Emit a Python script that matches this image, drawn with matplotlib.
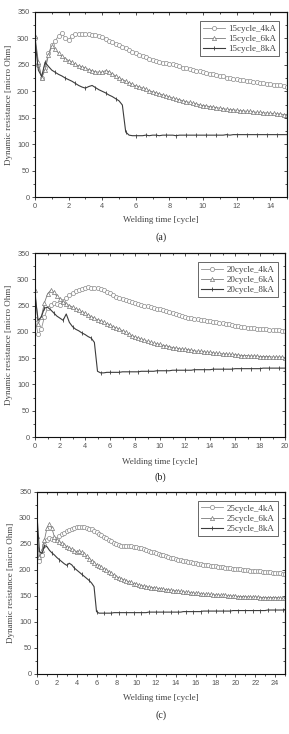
import numpy as np
import matplotlib
matplotlib.use("Agg")
import matplotlib.pyplot as plt
from matplotlib.ticker import MultipleLocator

# ---------------- data ----------------
t_a = np.arange(0, 15.001, 0.2)
a_4kA = [300,250,226,245,272,287,295,305,311,300,
         297,305,309,309,308,309,308,307,306,305,
         302,299,296,293,290,287,284,281,278,275,
         272,269,267,265,262,260,258,256,254,253,
         252,251,249,247,245,244,242,241,239,238,
         236,235,233,232,230,229,228,226,225,224,
         223,222,221,220,219,218,217,216,215,214,
         213,212,212,211,210,209]
a_6kA = [305,255,226,240,268,285,280,272,266,262,
         258,255,251,248,246,244,241,239,237,236,
         236,239,237,233,229,225,222,219,216,213,
         210,208,206,204,201,199,197,195,193,191,
         189,187,185,184,182,180,179,177,176,174,
         173,172,171,170,169,168,167,166,165,165,
         164,163,163,162,162,161,160,160,159,159,
         158,158,157,157,156,156]
a_8kA = [295,240,228,255,247,240,236,232,229,225,
         222,219,215,211,208,206,209,211,207,203,
         200,197,193,190,186,182,174,123,117,116,
         116,116,116,117,116,117,117,116,117,117,
         117,117,116,117,117,117,117,117,117,117,
         117,117,117,117,117,117,117,118,117,118,
         118,118,118,118,118,118,118,118,118,118,
         118,118,118,118,118,118]

t_b = np.arange(0, 20.001, 0.25)
b_4kA = [225,195,205,228,245,252,254,253,252,258,
         265,270,274,277,280,282,284,285,284,284,
         283,281,279,276,273,270,267,264,262,260,
         258,256,255,253,251,250,249,247,246,244,
         243,241,240,238,236,234,232,230,228,227,
         226,225,224,223,222,221,220,219,218,217,
         216,215,214,213,212,211,210,209,208,207,
         207,206,206,205,205,204,204,203,203,202,
         202]
b_6kA = [280,215,228,255,272,279,275,268,262,257,
         253,250,247,244,241,238,235,232,229,226,
         223,221,218,215,213,210,207,205,202,199,
         196,193,190,188,186,184,182,180,178,177,
         176,174,173,172,170,169,168,167,167,166,
         165,164,163,163,162,161,161,160,159,159,
         158,158,157,157,156,156,155,155,155,154,
         154,154,153,153,153,153,152,152,152,152,
         151]
b_8kA = [270,222,228,245,247,242,236,230,226,222,
         234,218,210,205,202,198,195,191,188,180,
         125,122,122,123,123,123,123,123,124,124,
         124,124,124,124,125,125,125,125,125,126,
         126,126,126,126,127,127,127,127,127,127,
         127,128,128,128,128,128,128,129,129,129,
         129,129,129,129,130,130,130,130,130,130,
         130,130,130,131,131,131,131,131,131,131,
         131]

t_c = np.arange(0, 25.001, 0.25)
c_4kA = [240,218,228,248,258,262,260,258,260,265,
         269,272,275,277,279,281,282,283,283,282,
         281,279,278,275,273,270,267,264,261,258,
         255,252,250,248,247,246,246,246,246,245,
         244,243,242,240,239,237,235,234,232,230,
         229,228,226,225,224,223,222,220,219,218,
         217,216,215,214,213,212,211,210,210,209,
         208,207,207,206,205,205,204,203,203,202,
         202,201,201,200,200,200,199,199,199,198,
         198,197,197,196,196,195,195,194,194,193,
         193]
c_6kA = [265,225,238,258,280,288,280,264,258,254,
         251,248,245,242,240,237,235,236,234,230,
         226,222,218,214,210,207,205,202,200,197,
         194,190,187,185,183,181,179,177,176,174,
         173,171,170,169,168,167,166,166,165,164,
         163,163,162,162,161,160,160,159,159,158,
         157,157,156,156,155,155,154,154,153,153,
         153,152,152,152,151,151,151,150,150,150,
         150,149,149,149,149,148,148,148,148,148,
         147,147,147,147,147,147,147,147,146,146,
         146]
c_8kA = [305,235,232,247,245,238,233,229,224,220,
         216,212,209,213,210,204,200,196,192,188,
         184,180,175,168,120,117,117,117,117,117,
         117,118,118,118,118,118,118,118,118,118,
         118,118,118,118,118,119,119,119,119,119,
         119,119,119,119,119,119,119,119,119,120,
         120,120,120,120,120,120,120,121,121,121,
         121,121,121,121,121,121,121,121,121,122,
         122,122,122,122,122,122,122,122,122,122,
         122,122,122,123,123,123,123,123,123,123,
         123]

panels = [
    ("(a)", "15cycle", t_a, a_4kA, a_6kA, a_8kA, 15),
    ("(b)", "20cycle", t_b, b_4kA, b_6kA, b_8kA, 20),
    ("(c)", "25cycle", t_c, c_4kA, c_6kA, c_8kA, 25),
]

# ---------------- layout ----------------
W, H = 289, 734
fig = plt.figure(figsize=(W / 100, H / 100), dpi=100)

# pixel boxes: left, right, top, bottom ; label y positions
boxes = [
    (35, 287, 12, 197, 220, 237),
    (35, 285, 253, 437, 462, 477),
    (37, 285, 492, 674, 698, 715),
]

serif = ["Liberation Serif", "DejaVu Serif"]
sans = ["Liberation Sans", "DejaVu Sans"]

for (lab, prefix, t, s4, s6, s8, xmax), (l, r, tp, bt, xl_y, pl_y) in zip(panels, boxes):
    ax = fig.add_axes([l / W, 1 - bt / H, (r - l) / W, (bt - tp) / H])
    ax.plot(t, s4, color="#909090", lw=0.6, marker="o", ms=3.0, mfc="white",
            mec="#8a8a8a", mew=0.5, label=f"{prefix}_4kA")
    ax.plot(t, s6, color="#7a7a7a", lw=0.6, marker="^", ms=3.0, mfc="white",
            mec="#777777", mew=0.5, label=f"{prefix}_6kA")
    ax.plot(t, s8, color="#3c3c3c", lw=0.8, marker="|", ms=3.2, mew=0.6,
            markevery=3, label=f"{prefix}_8kA")

    ax.set_xlim(0, xmax)
    ax.set_ylim(0, 350)
    ax.xaxis.set_major_locator(MultipleLocator(2))
    ax.xaxis.set_minor_locator(MultipleLocator(1))
    ax.yaxis.set_major_locator(MultipleLocator(50))
    ax.yaxis.set_minor_locator(MultipleLocator(25))
    ax.tick_params(which="both", direction="out", colors="#333333",
                   labelcolor="#555555", width=0.6)
    ax.tick_params(which="major", length=2.5, labelsize=5.3, pad=1.5)
    ax.tick_params(which="minor", length=1.3)
    for tl in ax.get_xticklabels() + ax.get_yticklabels():
        tl.set_family(sans)
    for sp in ax.spines.values():
        sp.set_linewidth(0.8)
        sp.set_color("#111111")

    # mirrored inward ticks on top and right
    sx = ax.secondary_xaxis("top")
    sx.xaxis.set_major_locator(MultipleLocator(2))
    sx.xaxis.set_minor_locator(MultipleLocator(1))
    sx.tick_params(which="both", direction="in", labeltop=False, width=0.6, colors="#333333")
    sx.tick_params(which="major", length=2.5)
    sx.tick_params(which="minor", length=1.3)
    sy = ax.secondary_yaxis("right")
    sy.yaxis.set_major_locator(MultipleLocator(50))
    sy.yaxis.set_minor_locator(MultipleLocator(25))
    sy.tick_params(which="both", direction="in", labelright=False, width=0.6, colors="#333333")
    sy.tick_params(which="major", length=2.5)
    sy.tick_params(which="minor", length=1.3)

    ax.set_ylabel("Dynamic resistance [micro Ohm]", family=serif, fontsize=6.5,
                  color="#444444", labelpad=3)
    fig.text((l + r) / 2 / W, 1 - xl_y / H, "Welding time [cycle]", family=serif,
             fontsize=6.5, color="#444444", ha="center", va="center")
    fig.text((l + r) / 2 / W, 1 - pl_y / H, lab, family=serif, fontsize=7.2,
             color="#222222", ha="center", va="center")

    leg = ax.legend(loc="upper right", bbox_to_anchor=(0.97, 0.95),
                    prop={"family": serif, "size": 6.5}, frameon=True,
                    fancybox=False, edgecolor="#222222", handlelength=2.4,
                    handletextpad=0.4, labelspacing=0.2, borderpad=0.35,
                    borderaxespad=0)
    leg.get_frame().set_linewidth(0.6)
    for txt in leg.get_texts():
        txt.set_color("#444444")

fig.savefig("out.png", dpi=100)
